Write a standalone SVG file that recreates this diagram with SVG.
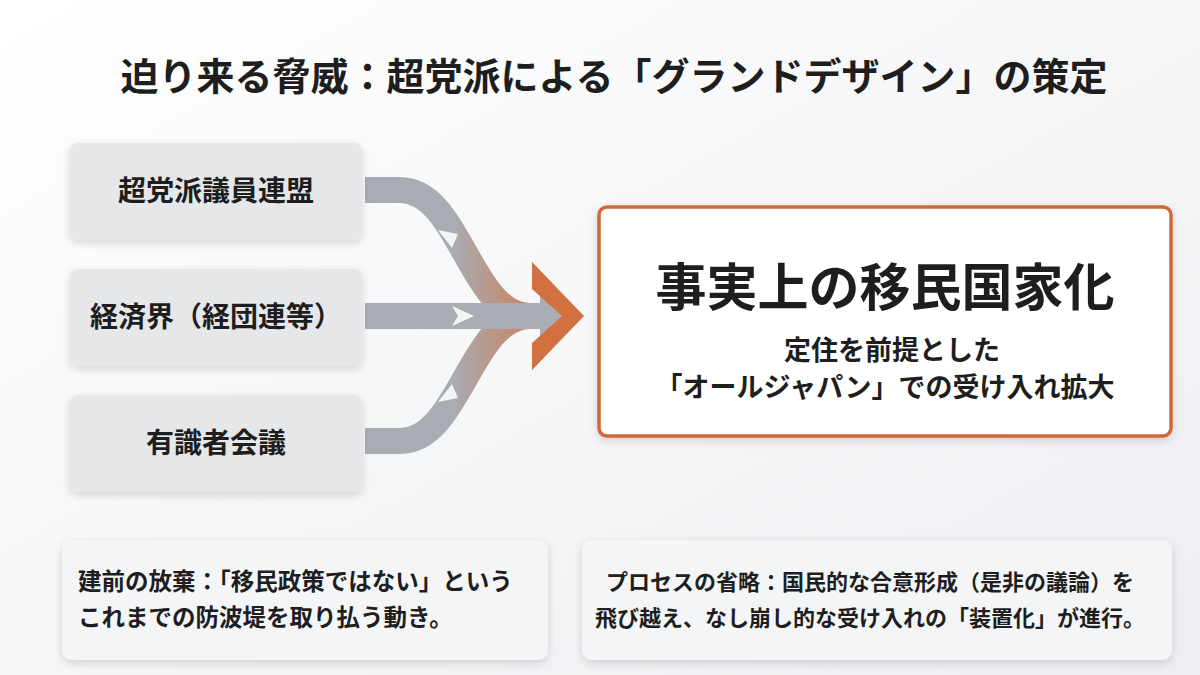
<svg xmlns="http://www.w3.org/2000/svg" width="1200" height="675" viewBox="0 0 1200 675">
<defs>
<linearGradient id="bg" x1="0" y1="0" x2="1" y2="1"><stop offset="0" stop-color="#ffffff"/><stop offset="1" stop-color="#eceef1"/></linearGradient>
<linearGradient id="flow" x1="365" y1="0" x2="560" y2="0" gradientUnits="userSpaceOnUse"><stop offset="0.45" stop-color="#a9acb3"/><stop offset="0.95" stop-color="#d2784a"/></linearGradient>
<filter id="sh" x="-10%" y="-10%" width="120%" height="130%"><feDropShadow dx="0" dy="3" stdDeviation="4" flood-color="#000" flood-opacity="0.15"/></filter>
<style>
.src{fill:#e6e7e9;filter:url(#sh)}
.note{fill:#f4f5f6;filter:url(#sh)}
text{font-family:"Noto Sans CJK JP","Noto Sans",sans-serif;fill:#1e1e1e}
.lbl{font-size:28px;font-weight:700;text-anchor:middle}
.nt{font-size:23.5px;font-weight:700}
.nt2{font-size:22px;font-weight:700;text-anchor:middle}
.band{fill:none;stroke:url(#flow);stroke-width:26}
.chev{fill:#f4f4f5}
</style>
</defs>
<rect width="1200" height="675" fill="url(#bg)"/>
<text x="614" y="90" text-anchor="middle" font-size="38" font-weight="700">迫り来る脅威：超党派による「グランドデザイン」の策定</text>
<g id="connectors">
<path class="band" d="M365 190 H400 C460 190 470 316 530 316"/>
<path class="band" d="M365 441 H400 C460 441 470 316 530 316"/>
<path d="M365 303 H540 V292 L568 316 L540 340 V329 H365 Z" fill="#aaadb4"/>
<path d="M532 262 L584 316 L532 370 V343 L562 316 L532 289 Z" fill="#d2703f"/>
<path class="chev" d="M438 230 L458 234 L452 248 Z"/>
<path class="chev" d="M452 306 L474 316 L452 326 L458 316 Z"/>
<path class="chev" d="M438 402 L458 398 L452 384 Z"/>
</g>
<g id="n1"><rect class="src" x="70" y="143" width="292" height="97" rx="8"/><text class="lbl" x="216" y="201">超党派議員連盟</text></g>
<g id="n2"><rect class="src" x="70" y="269" width="292" height="97" rx="8"/><text class="lbl" x="216" y="327">経済界（経団連等）</text></g>
<g id="n3"><rect class="src" x="70" y="395" width="292" height="97" rx="8"/><text class="lbl" x="216" y="453">有識者会議</text></g>
<g id="main">
<rect x="599" y="207" width="572" height="229" rx="8" fill="#fff" stroke="#d0683a" stroke-width="3.5" filter="url(#sh)"/>
<text x="885" y="306" text-anchor="middle" font-size="51" font-weight="700">事実上の移民国家化</text>
<text x="892" y="360" text-anchor="middle" font-size="27" font-weight="700">定住を前提とした</text>
<text x="885" y="397" text-anchor="middle" font-size="27" font-weight="700">「オールジャパン」での受け入れ拡大</text>
</g>
<g id="note1"><rect class="note" x="62" y="540" width="486" height="120" rx="10"/>
<text class="nt" x="78" y="590">建前の放棄：「移民政策ではない」という</text>
<text class="nt" x="78" y="626">これまでの防波堤を取り払う動き。</text></g>
<g id="note2"><rect class="note" x="582" y="540" width="590" height="120" rx="10"/>
<text class="nt2" x="870" y="590">プロセスの省略：国民的な合意形成（是非の議論）を</text>
<text class="nt2" x="870" y="626">飛び越え、なし崩し的な受け入れの「装置化」が進行。</text></g>
</svg>
